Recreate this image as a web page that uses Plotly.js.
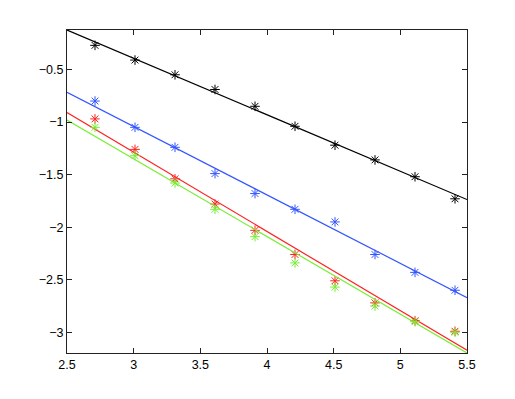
<!DOCTYPE html>
<html>
<head>
<meta charset="utf-8">
<script src="https://cdn.plot.ly/plotly-3.0.1.min.js"></script>
<style>
  html, body { margin: 0; padding: 0; background: #fff; }
  #chart { width: 515px; height: 399px; }
</style>
</head>
<body>
<div id="chart"></div>
<script>
// measured points
const xs = [2.71, 3.01, 3.31, 3.61, 3.91, 4.21, 4.51, 4.81, 5.11, 5.41];
const blackPts = [-0.27, -0.41, -0.55, -0.69, -0.85, -1.04, -1.22, -1.36, -1.52, -1.73];
const bluePts = [-0.80, -1.05, -1.24, -1.49, -1.68, -1.83, -1.95, -2.26, -2.43, -2.60];
const redPts = [-0.97, -1.26, -1.54, -1.78, -2.03, -2.26, -2.51, -2.72, -2.89, -2.99];
const greenPts = [-1.05, -1.32, -1.58, -1.83, -2.09, -2.34, -2.57, -2.75, -2.90, -3.00];

// fitted lines, ends at the axis limits
const fitX = [2.5, 5.5];
const blackFit = [-0.124, -1.737];
const blueFit = [-0.716, -2.670];
const redFit = [-0.910, -3.171];
const greenFit = [-0.981, -3.197];

const xTicks = [2.5, 3, 3.5, 4, 4.5, 5, 5.5];
const yTicks = [-3, -2.5, -2, -1.5, -1, -0.5];

const series = [
    { pts: blackPts, fit: blackFit, color: '#000000' },
    { pts: bluePts, fit: blueFit, color: '#3355ff' },
    { pts: redPts, fit: redFit, color: '#ff2222' },
    { pts: greenPts, fit: greenFit, color: '#77ee33' }
];

const traces = [];
series.forEach(s => {
    traces.push({
        x: fitX, y: s.fit, type: 'scatter', mode: 'lines',
        line: { color: s.color, width: 1.2 },
        hoverinfo: 'skip'
    });
    traces.push({
        x: xs, y: s.pts, type: 'scatter', mode: 'markers',
        marker: { symbol: 'asterisk-open', size: 8, color: s.color, line: { color: s.color, width: 1 } }
    });
});

const axisStyle = {
    showline: true,
    linecolor: '#222',
    linewidth: 1,
    mirror: 'ticks',
    ticks: 'inside',
    ticklen: 5,
    tickcolor: '#222',
    showgrid: false,
    zeroline: false,
    tickfont: { family: 'Liberation Sans, Arial, sans-serif', size: 12.5, color: '#000' }
};

const layout = {
    width: 515,
    height: 399,
    showlegend: false,
    paper_bgcolor: '#fff',
    plot_bgcolor: '#fff',
    margin: { l: 67, r: 48, t: 30, b: 46 },
    xaxis: Object.assign({}, axisStyle, {
        range: [2.5, 5.5], tickvals: xTicks, ticktext: xTicks.map(String)
    }),
    yaxis: Object.assign({}, axisStyle, {
        range: [-3.197, -0.124], tickvals: yTicks
    })
};

Plotly.newPlot('chart', traces, layout, { displayModeBar: false, staticPlot: true });
</script>
</body>
</html>
